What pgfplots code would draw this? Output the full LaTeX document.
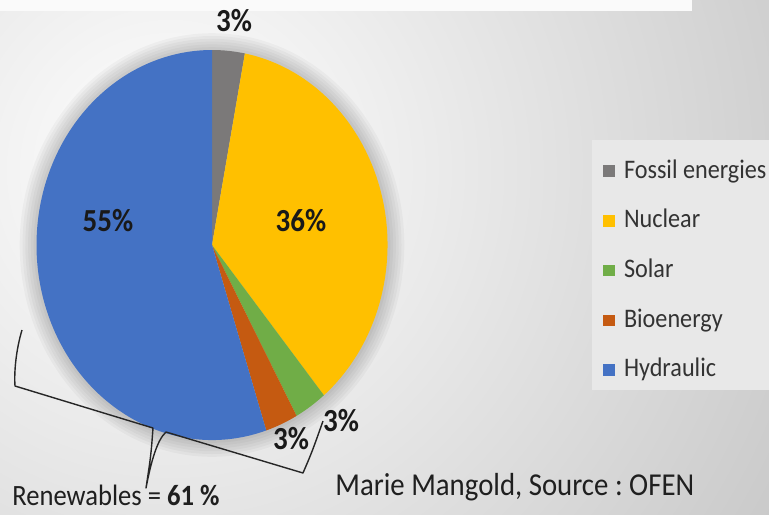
\documentclass[border=0pt]{standalone}
\usepackage{pgfplots}
\usepackage{pgfplotstable}
\pgfplotsset{compat=1.18}
\usepackage{fontspec}
\setmainfont{Carlito}
\frenchspacing
\definecolor{cfossil}{HTML}{7B7979}
\definecolor{cnuclear}{HTML}{FFC000}
\definecolor{csolar}{HTML}{70AD47}
\definecolor{cbio}{HTML}{C55A11}
\definecolor{chydro}{HTML}{4472C4}
\definecolor{bgout}{HTML}{C8C8C8}
\definecolor{legbg}{HTML}{E8E8E8}
\pgfplotstableread{
label value
Fossil 3
Nuclear 36
Solar 3
Bioenergy 3
Hydraulic 55
}\piedata
\pgfplotsset{
  mysq/.style={legend image code/.code={\fill[#1] (0pt,-2.6pt) rectangle (5.6pt,2.6pt);}},
}
\begin{document}
\begin{tikzpicture}
\pgfplotstablegetelem{0}{value}\of\piedata \let\vA\pgfplotsretval
\pgfplotstablegetelem{1}{value}\of\piedata \let\vB\pgfplotsretval
\pgfplotstablegetelem{2}{value}\of\piedata \let\vC\pgfplotsretval
\pgfplotstablegetelem{3}{value}\of\piedata \let\vD\pgfplotsretval
\pgfplotstablegetelem{4}{value}\of\piedata \let\vE\pgfplotsretval
\pgfmathsetmacro\aA{90}
\pgfmathsetmacro\aB{\aA-3.6*\vA}
\pgfmathsetmacro\aC{\aB-3.6*\vB}
\pgfmathsetmacro\aD{\aC-3.6*\vC}
\pgfmathsetmacro\aE{\aD-3.6*\vD}
\pgfmathsetmacro\aF{\aE-3.6*\vE}
\tikzset{
  lbl/.style={font=\fontsize{14.5}{16}\selectfont\bfseries, text=black!90, yscale=1.108, inner sep=0pt},
  halo/.style={black, opacity=0.03},
  pie/.style={x radius=87.75pt, y radius=97.5pt},
}
\begin{axis}[
  width=384.5pt, height=257pt, scale only axis,
  xmin=0, xmax=769, ymin=0, ymax=514, y dir=reverse,
  hide axis, clip=false,
  legend cell align=left,
  legend style={at={(axis cs:603,158)}, anchor=north west, draw=none, fill=none,
    inner sep=0pt, outer sep=0pt,
    font=\fontsize{12.1}{14}\selectfont, text=black!80,
    nodes={inner sep=0pt, text height=10pt, text depth=3pt},
    row sep=11.85pt,
    /tikz/every odd column/.append style={column sep=4.5pt}},
]
% background
\fill[bgout] (axis cs:0,0) rectangle (axis cs:769,514);
\begin{scope}
\clip (axis cs:0,0) rectangle (axis cs:769,514);
\shade[inner color=white, outer color=bgout] (axis cs:170,170) circle[radius=360pt];
\end{scope}
\fill[white!98!black] (axis cs:0,0) rectangle (axis cs:692,11);
\fill[legbg] (axis cs:592,140) rectangle (axis cs:769,390);
% halo
\fill[halo] (axis cs:212,245) ellipse[x radius=96.15pt, y radius=105.9pt];
\fill[halo] (axis cs:212,245) ellipse[x radius=94.75pt, y radius=104.5pt];
\fill[halo] (axis cs:212,245) ellipse[x radius=93.35pt, y radius=103.1pt];
\fill[halo] (axis cs:212,245) ellipse[x radius=91.95pt, y radius=101.7pt];
\fill[halo] (axis cs:212,245) ellipse[x radius=90.55pt, y radius=100.3pt];
\fill[halo] (axis cs:212,245) ellipse[x radius=89.15pt, y radius=98.9pt];
% slices
\fill[cfossil] (axis cs:212,245) -- ++(\aA:87.75pt and 97.5pt) arc[pie, start angle=\aA, end angle=\aB] -- cycle;
\fill[cnuclear] (axis cs:212,245) -- ++(\aB:87.75pt and 97.5pt) arc[pie, start angle=\aB, end angle=\aC] -- cycle;
\fill[csolar] (axis cs:212,245) -- ++(\aC:87.75pt and 97.5pt) arc[pie, start angle=\aC, end angle=\aD] -- cycle;
\fill[cbio] (axis cs:212,245) -- ++(\aD:87.75pt and 97.5pt) arc[pie, start angle=\aD, end angle=\aE] -- cycle;
\fill[chydro] (axis cs:212,245) -- ++(\aE:87.75pt and 97.5pt) arc[pie, start angle=\aE, end angle=\aF] -- cycle;
% labels
\node[lbl] at (axis cs:234,21) {3\%};
\node[lbl] at (axis cs:301,221) {36\%};
\node[lbl] at (axis cs:108,221) {55\%};
\node[lbl] at (axis cs:291,439) {3\%};
\node[lbl] at (axis cs:341,421) {3\%};
% brace
\draw[black!85, line width=0.7pt, line join=round]
  (axis cs:22,330) .. controls (axis cs:16,350) and (axis cs:14,372) .. (axis cs:15,386)
  -- (axis cs:153,428) .. controls (axis cs:151,455) .. (axis cs:146,488)
  .. controls (axis cs:151,462) and (axis cs:157,440) .. (axis cs:166,432)
  -- (axis cs:303,473) .. controls (axis cs:312,452) .. (axis cs:323,421);
% texts
\node[anchor=base west, inner sep=0pt, font=\fontsize{13.3}{15}\selectfont, text=black!88, yscale=1.108] at (axis cs:12,505) {Renewables = \textbf{61 \%}};
\node[anchor=base west, inner sep=0pt, font=\fontsize{14.4}{16}\selectfont, text=black!88, yscale=1.108] at (axis cs:335,495) {Marie Mangold, Source : OFEN};
% legend
\addlegendimage{mysq=cfossil}\addlegendentry{\scalebox{1}[1.108]{Fossil energies}}
\addlegendimage{mysq=cnuclear}\addlegendentry{\scalebox{1}[1.108]{Nuclear}}
\addlegendimage{mysq=csolar}\addlegendentry{\scalebox{1}[1.108]{Solar}}
\addlegendimage{mysq=cbio}\addlegendentry{\scalebox{1}[1.108]{Bioenergy}}
\addlegendimage{mysq=chydro}\addlegendentry{\scalebox{1}[1.108]{Hydraulic}}
\end{axis}
\pgfresetboundingbox
\path[use as bounding box] (0,0) rectangle (384.5pt,257pt);
\end{tikzpicture}
\end{document}
